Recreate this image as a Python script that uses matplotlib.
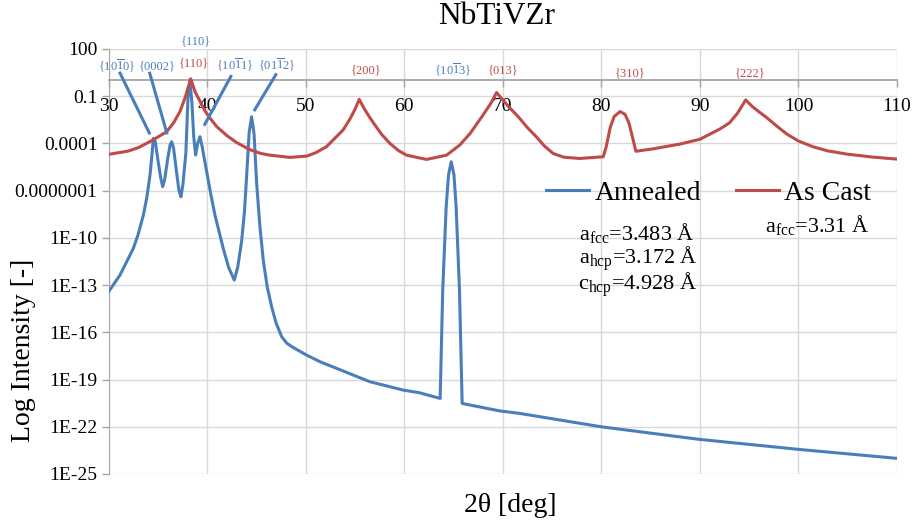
import numpy as np
import matplotlib
matplotlib.use("Agg")
import matplotlib.pyplot as plt
from matplotlib.ticker import FixedLocator, NullLocator

plt.rcParams['font.family'] = ['Liberation Serif', 'DejaVu Serif']
plt.rcParams['mathtext.fontset'] = 'custom'
plt.rcParams['mathtext.rm'] = 'Liberation Serif'
plt.rcParams['mathtext.it'] = 'Liberation Serif:italic'

# --- data (2theta in deg, log10 of intensity) ---
annealed_x = [30.0, 31.17, 32.52, 33.0, 33.54, 33.9, 34.21, 34.4, 34.55, 34.75,
              35.0, 35.3, 35.5, 35.7, 36.0, 36.25, 36.41, 36.6, 36.9, 37.15,
              37.35, 37.55, 37.85, 38.06, 38.26, 38.46, 38.65, 38.84, 39.05, 39.28,
              39.5, 39.96, 40.4, 40.8, 41.64, 42.2, 42.76, 43.1, 43.5, 43.8,
              44.02, 44.27, 44.52, 44.77, 45.03, 45.35, 45.7, 46.1, 46.55, 47.0,
              47.57, 48.1, 48.7, 50.1, 51.5, 53.14, 56.52, 59.9, 61.55, 63.65,
              63.91, 64.26, 64.5, 64.77, 65.05, 65.27, 65.61, 65.88, 69.67, 71.7,
              79.98, 89.94, 100.08, 110.05]
annealed_logy = [-13.43, -12.36, -10.67, -9.8, -8.55, -7.4, -6.01, -4.8, -3.68, -3.9,
                 -5.0, -6.2, -6.75, -6.3, -5.0, -4.1, -3.9, -4.3, -5.8, -7.0,
                 -7.39, -6.6, -4.6, -1.2, 0.02, -1.4, -3.6, -4.74, -4.0, -3.58,
                 -4.2, -5.80, -7.3, -8.55, -10.67, -11.9, -12.68, -11.9, -10.25, -8.3,
                 -6.01, -3.3, -2.31, -3.4, -6.54, -9.2, -11.41, -13.1, -14.38, -15.4,
                 -16.28, -16.7, -16.95, -17.45, -17.88, -18.29, -19.14, -19.67, -19.84, -20.20,
                 -13.32, -8.03, -6.0, -5.17, -6.0, -8.03, -13.32, -20.52, -20.99, -21.15,
                 -22.0, -22.80, -23.44, -24.01]

ascast_x = [30.0, 32.0, 33.0, 34.5, 35.9, 36.6, 37.25, 37.8, 38.34, 38.8,
            39.3, 39.8, 40.3, 41.0, 42.0, 43.0, 44.35, 45.5, 46.4, 48.4,
            50.1, 51.0, 52.1, 53.8, 54.5, 55.0, 55.44, 55.9, 56.4, 56.9,
            57.7, 58.55, 59.4, 60.24, 62.27, 64.3, 65.65, 66.7, 68.0, 68.8,
            69.37, 70.5, 71.7, 72.5, 73.4, 74.2, 75.1, 76.2, 77.8, 80.2,
            80.5, 80.9, 81.3, 81.9, 82.4, 82.8, 83.2, 83.5, 85.25, 88.0,
            90.0, 92.0, 93.0, 93.8, 94.65, 95.3, 96.0, 96.75, 97.8, 98.8,
            100.0, 101.5, 103.0, 104.9, 107.5, 110.0]
ascast_logy = [-4.70, -4.49, -4.28, -3.79, -3.26, -2.70, -1.98, -1.05, 0.10, -0.75,
               -1.34, -1.95, -2.40, -2.95, -3.50, -3.95, -4.40, -4.65, -4.75, -4.89,
               -4.81, -4.60, -4.22, -3.15, -2.45, -1.85, -1.20, -1.75, -2.25, -2.72,
               -3.42, -4.0, -4.45, -4.75, -5.02, -4.75, -4.10, -3.36, -2.20, -1.45,
               -0.77, -1.60, -2.40, -3.0, -3.58, -4.15, -4.64, -4.88, -4.96, -4.85,
               -4.20, -3.00, -2.30, -1.98, -2.15, -2.70, -3.70, -4.50, -4.35, -4.04,
               -3.74, -3.10, -2.70, -2.10, -1.24, -1.65, -2.00, -2.35, -2.90, -3.40,
               -3.85, -4.22, -4.48, -4.68, -4.87, -5.0]

ytick_vals = [100, 0.1, 1e-4, 1e-7, 1e-10, 1e-13, 1e-16, 1e-19, 1e-22, 1e-25]
ytick_labels = ["100", "0.1", "0.0001", "0.0000001", "1E-10", "1E-13",
                "1E-16", "1E-19", "1E-22", "1E-25"]
xtick_vals = [30, 40, 50, 60, 70, 80, 90, 100, 110]

# peak labels: (text, x, log10 y, colour)
blue = "#4A7EBB"
red = "#BE4B48"
peak_labels = [
    (r"{10$\overline{1}$0}", 30.83, 0.92, blue),
    (r"{0002}", 34.96, 0.92, blue),
    (r"{110}", 38.67, 1.06, red),
    (r"{110}", 38.88, 2.50, blue),
    (r"{10$\overline{1}$1}", 42.83, 0.98, blue),
    (r"{01$\overline{1}$2}", 47.12, 0.98, blue),
    (r"{200}", 56.18, 0.66, red),
    (r"{10$\overline{1}$3}", 64.9, 0.70, blue),
    (r"{013}", 70.04, 0.66, red),
    (r"{310}", 82.9, 0.44, red),
    (r"{222}", 95.07, 0.44, red),
]
# leader lines: (x0, logy0, x1, logy1)
leaders = [
    (31.10, 0.55, 34.21, -3.43),
    (34.14, 0.55, 35.96, -3.43),
    (42.49, 0.34, 39.69, -2.88),
    (47.06, 0.45, 44.76, -1.95),
]

W, H = 918, 520
fig = plt.figure(figsize=(W / 100, H / 100), dpi=100)
ax = fig.add_axes([108.5 / W, 1 - 474 / H, (897 - 108.5) / W, (474 - 48.9) / H])

ax.plot(annealed_x, 10 ** np.array(annealed_logy), color=blue, lw=2.2,
        label="Annealed", zorder=3, solid_joinstyle='round')
ax.plot(ascast_x, 10 ** np.array(ascast_logy), color=red, lw=2.2,
        label="As Cast", zorder=4, solid_joinstyle='round')

for x0, y0, x1, y1 in leaders:
    ax.plot([x0, x1], [10 ** y0, 10 ** y1], color=blue, lw=2.2, zorder=5,
            clip_on=False, solid_capstyle='butt')

for txt, x, ly, c in peak_labels:
    ax.text(x, 10 ** ly, txt, color=c, fontsize=9, ha='center', va='center',
            clip_on=False)

ax.set_yscale('log')
ax.set_xlim(30, 110)
ax.set_ylim(1e-25, 100)
ax.yaxis.set_major_locator(FixedLocator(ytick_vals))
ax.yaxis.set_minor_locator(NullLocator())
ax.set_yticks(ytick_vals)
ax.set_yticklabels(ytick_labels)
ax.set_xticks(xtick_vals)
ax.set_xticklabels([str(v) for v in xtick_vals])
ax.tick_params(axis='both', labelsize=14, color='#A6A6A6', length=5, width=1,
               direction='out')
ax.tick_params(axis='x', pad=8)
ax.tick_params(axis='y', pad=3)

ax.grid(True, color='#D9D9D9', lw=1)
ax.set_axisbelow(True)
for s in ['top', 'right']:
    ax.spines[s].set_visible(False)
ax.spines['left'].set_color('#A6A6A6')
ax.spines['bottom'].set_color('#A6A6A6')
ax.spines['bottom'].set_linewidth(1.3)
ax.spines['bottom'].set_position(('data', 1))

fig.text(497 / W, 1 - 16 / H, "NbTiVZr", fontsize=22.5, ha='center', va='center')
fig.text(24 / W, 1 - 350 / H, "Log Intensity [-]", fontsize=20, rotation=90,
         ha='center', va='center')
fig.text(510 / W, 1 - 505 / H, "2θ [deg]", fontsize=20, ha='center', va='center')

fig.legend(loc='center left', bbox_to_anchor=(546 / W, 1 - 193 / H), ncol=2,
           frameon=False, fontsize=20, borderpad=0, borderaxespad=0,
           handlelength=1.55, handletextpad=0.2, columnspacing=1.25)

info = [
    (637, 233, r"a$_\mathrm{fcc}$=3.483 Å"),
    (638, 259, r"a$_\mathrm{hcp}$=3.172 Å"),
    (638, 285, r"c$_\mathrm{hcp}$=4.928 Å"),
    (817, 225, r"a$_\mathrm{fcc}$=3.31 Å"),
]
for px, py, txt in info:
    fig.text(px / W, 1 - py / H, txt, fontsize=16, ha='center', va='center')

fig.savefig("out.png", dpi=100)
